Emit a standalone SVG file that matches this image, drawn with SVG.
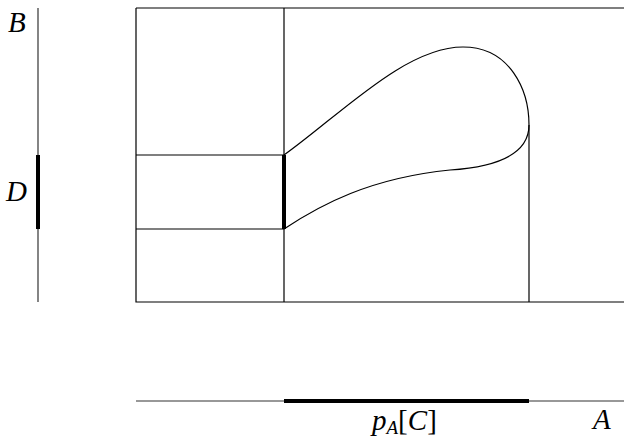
<svg xmlns="http://www.w3.org/2000/svg" width="624" height="437" viewBox="0 0 624 437">
<style>
.ln{stroke:#000;stroke-width:1.2;fill:none}
.ax{stroke:#333;stroke-width:1.2;fill:none}
.th{stroke:#000;stroke-width:4;fill:none}
</style>
<rect width="624" height="437" fill="#fff"/>
<g id="connectors">
<path class="ln" d="M136,8 H624 M136,8 V302 H624"/>
<path class="ln" d="M284,8 V302"/>
<path class="ln" d="M529,125 V302"/>
<path class="ln" d="M136,155 H284 M136,229 H284"/>
<path class="ln" d="M284,155 C340,115 405,47 463,47 C510,47 529,90 529,125 C529,155 495,167 450,170 C370,178 320,205 284,229"/>
</g>
<g id="fiber">
<path class="th" d="M284,155 V229"/>
</g>
<g font-family="Liberation Serif, DejaVu Serif, serif" font-style="italic" font-size="29" fill="#000">
<g id="axisB">
<path class="ax" d="M38,8 V302"/>
<path class="th" d="M38,155 V229"/>
<text x="8" y="32">B</text>
<text x="6" y="201">D</text>
</g>
<g id="axisA">
<path class="ax" d="M136,401 H624"/>
<path class="th" d="M284,401 H529"/>
<text x="372" y="430">p<tspan font-size="19" dy="4">A</tspan><tspan font-style="normal" dy="-4">[</tspan>C<tspan font-style="normal">]</tspan></text>
<text x="593" y="429">A</text>
</g>
</g>
</svg>
